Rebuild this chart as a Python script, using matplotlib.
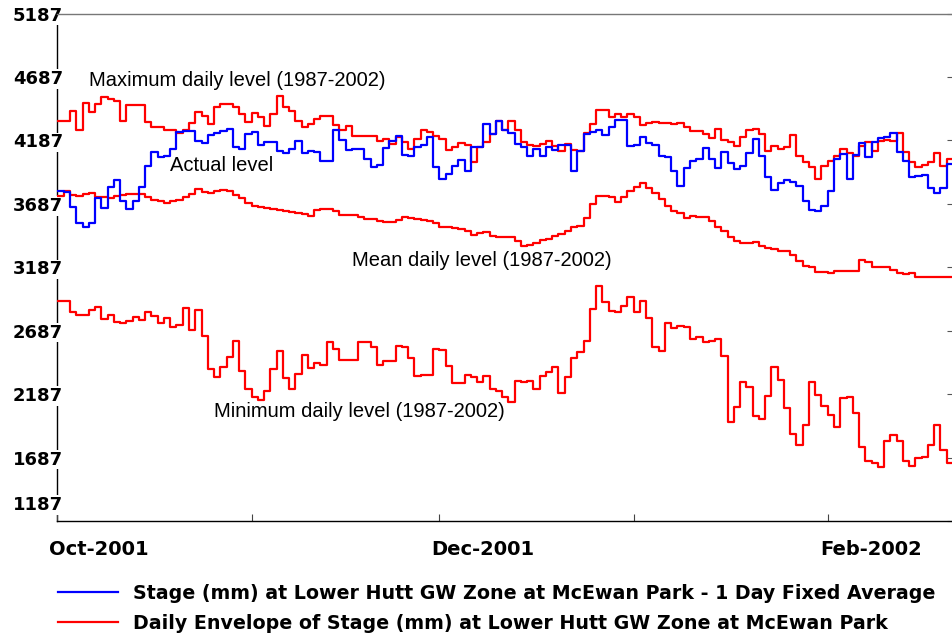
import datetime as dt
import matplotlib.pyplot as plt
import matplotlib.dates as mdates
import matplotlib.transforms as mtransforms
from matplotlib.lines import Line2D

# daily values in mm, starting 1 Oct 2001
start = dt.date(2001, 10, 1)

actual_level = [3791, 3778, 3665, 3534, 3507, 3534, 3734, 3655, 3823, 3876,
                3712, 3647, 3712, 3823, 3989, 4094, 4059, 4067, 4120, 4251,
                4259, 4259, 4186, 4165, 4233, 4243, 4259, 4278, 4138, 4120,
                4238, 4251, 4154, 4172, 4178, 4107, 4085, 4120, 4180, 4085,
                4101, 4094, 4028, 4028, 4265, 4191, 4112, 4120, 4120, 4041,
                3981, 3996, 4128, 4180, 4225, 4075, 4067, 4138, 4154, 4217,
                3975, 3883, 3923, 3988, 4033, 3949, 4138, 4138, 4317, 4238,
                4343, 4265, 4243, 4159, 4138, 4067, 4120, 4067, 4133, 4112,
                4154, 4154, 3949, 4107, 4238, 4251, 4265, 4233, 4296, 4349,
                4349, 4146, 4154, 4217, 4165, 4154, 4067, 4059, 3944, 3831,
                3970, 4023, 4041, 4128, 4041, 3970, 4094, 4007, 3962, 3988,
                4085, 4199, 4067, 3902, 3797, 3849, 3876, 3857, 3831, 3707,
                3639, 3634, 3673, 3791, 4041, 4080, 3883, 4075, 4165, 4054,
                4178, 4207, 4212, 4243, 4094, 4023, 3902, 3910, 3918, 3812,
                3770, 3812, 4001]

max_level = [4338, 4338, 4422, 4270, 4480, 4409, 4475, 4527, 4514, 4496,
             4343, 4462, 4462, 4462, 4330, 4291, 4291, 4265, 4265, 4244,
             4270, 4322, 4409, 4383, 4317, 4449, 4475, 4475, 4454, 4396,
             4330, 4404, 4375, 4304, 4396, 4540, 4454, 4417, 4343, 4296,
             4317, 4356, 4383, 4383, 4312, 4265, 4304, 4225, 4225, 4225,
             4225, 4180, 4199, 4159, 4217, 4172, 4120, 4199, 4270, 4251,
             4225, 4199, 4112, 4133, 4165, 4154, 4015, 4138, 4172, 4238,
             4343, 4270, 4343, 4270, 4172, 4154, 4146, 4159, 4186, 4146,
             4107, 4159, 4112, 4107, 4243, 4317, 4427, 4427, 4375, 4396,
             4375, 4396, 4370, 4312, 4322, 4330, 4322, 4322, 4317, 4322,
             4291, 4259, 4259, 4238, 4207, 4278, 4191, 4172, 4146, 4212,
             4270, 4278, 4238, 4107, 4146, 4120, 4133, 4233, 4067, 4015,
             3981, 3883, 3988, 4028, 4067, 4120, 4085, 4067, 4146, 4172,
             4107, 4180, 4191, 4186, 4243, 4094, 4015, 3981, 3996, 4015,
             4085, 3988, 4041]

mean_level = [3752, 3791, 3760, 3752, 3765, 3770, 3744, 3744, 3734, 3752,
              3760, 3765, 3765, 3765, 3739, 3718, 3707, 3691, 3707, 3718,
              3739, 3765, 3804, 3783, 3770, 3786, 3797, 3786, 3760, 3734,
              3691, 3673, 3660, 3655, 3647, 3639, 3628, 3620, 3613, 3607,
              3594, 3639, 3647, 3647, 3634, 3602, 3602, 3602, 3581, 3568,
              3568, 3549, 3541, 3541, 3560, 3581, 3576, 3568, 3560, 3549,
              3534, 3507, 3502, 3497, 3489, 3476, 3444, 3455, 3463, 3436,
              3423, 3429, 3423, 3397, 3358, 3366, 3376, 3402, 3410, 3436,
              3450, 3476, 3502, 3515, 3576, 3686, 3752, 3752, 3739, 3699,
              3739, 3791, 3823, 3849, 3812, 3770, 3725, 3673, 3634, 3613,
              3576, 3594, 3586, 3586, 3555, 3507, 3471, 3429, 3392, 3376,
              3376, 3384, 3358, 3339, 3331, 3313, 3318, 3286, 3239, 3200,
              3187, 3147, 3147, 3139, 3155, 3160, 3155, 3160, 3245, 3226,
              3187, 3187, 3187, 3166, 3139, 3134, 3139, 3108, 3108, 3108,
              3108, 3108, 3108]

min_level = [2924, 2924, 2832, 2813, 2813, 2850, 2871, 2779, 2813, 2753,
             2745, 2766, 2797, 2771, 2832, 2805, 2745, 2787, 2719, 2734,
             2866, 2692, 2850, 2648, 2385, 2319, 2398, 2477, 2608, 2372,
             2227, 2167, 2140, 2208, 2385, 2529, 2314, 2227, 2345, 2497,
             2392, 2429, 2419, 2595, 2542, 2455, 2455, 2455, 2595, 2595,
             2561, 2419, 2450, 2445, 2569, 2556, 2471, 2332, 2340, 2337,
             2542, 2537, 2411, 2272, 2272, 2340, 2324, 2280, 2332, 2227,
             2208, 2161, 2122, 2293, 2280, 2287, 2227, 2332, 2358, 2403,
             2193, 2324, 2471, 2516, 2608, 2858, 3042, 2910, 2839, 2831,
             2884, 2950, 2831, 2918, 2787, 2555, 2529, 2747, 2708, 2726,
             2713, 2621, 2634, 2595, 2603, 2621, 2490, 1964, 2082, 2280,
             2245, 2017, 1990, 2174, 2398, 2298, 2077, 1872, 1788, 1946,
             2280, 2182, 2095, 2024, 1924, 2153, 2166, 2035, 1767, 1662,
             1648, 1614, 1814, 1867, 1819, 1656, 1622, 1683, 1693, 1788,
             1946, 1746, 1641]

y_ticks = [1187, 1687, 2187, 2687, 3187, 3687, 4187, 4687, 5187]
month_ticks = [dt.date(2001, 10, 1), dt.date(2001, 11, 1), dt.date(2001, 12, 1),
               dt.date(2002, 1, 1), dt.date(2002, 2, 1)]
month_labels = ['Oct-2001', '', 'Dec-2001', '', 'Feb-2002']

legend_labels = ['Stage (mm) at Lower Hutt GW Zone at McEwan Park - 1 Day Fixed Average',
                 'Daily Envelope of Stage (mm) at Lower Hutt GW Zone at McEwan Park']

plt.rcParams['font.family'] = ['Liberation Sans', 'DejaVu Sans']
bold_font = {'family': 'DejaVu Sans', 'weight': 'bold'}

n = len(actual_level)
days = [start + dt.timedelta(days=i) for i in range(n + 1)]


def steps(values):
    # repeat last value so the final day gets its full step
    return list(values) + [values[-1]]


fig = plt.figure(figsize=(9.53, 6.37), dpi=100)
ax = fig.add_axes([0.0603, 0.1821, 0.9397, 0.7967])

blue = '#0000ff'
red = '#ff0000'
lw = 1.6
ax.step(days, steps(max_level), where='post', color=red, lw=lw)
ax.step(days, steps(mean_level), where='post', color=red, lw=lw)
ax.step(days, steps(min_level), where='post', color=red, lw=lw)
ax.step(days, steps(actual_level), where='post', color=blue, lw=lw)

ax.set_xlim(days[0], days[-1])
ax.set_ylim(1187, 5187)

# y axis: bold labels sitting over the left spine
ax.set_yticks(y_ticks)
ax.set_yticklabels([str(v) for v in y_ticks], fontsize=13, **bold_font)
ax.tick_params(axis='y', which='both', left=False, right=True, direction='in',
               length=4, color='#555555', pad=-4)
for lab in ax.get_yticklabels():
    lab.set_bbox(dict(facecolor='white', edgecolor='none', pad=0.5))
ax.get_yticklabels()[0].set_transform(
    ax.get_yticklabels()[0].get_transform()
    + mtransforms.ScaledTranslation(0, 0.18, fig.dpi_scale_trans))

# x axis: month ticks, labels shifted right of the tick
ax.set_xticks(month_ticks)
ax.set_xticklabels(month_labels, fontsize=14, ha='left', **bold_font)
ax.tick_params(axis='x', direction='in', length=5, color='#444444', pad=14)
shift = mtransforms.ScaledTranslation(-0.08, 0, fig.dpi_scale_trans)
for lab in ax.get_xticklabels():
    lab.set_transform(lab.get_transform() + shift)

ax.spines['right'].set_visible(False)
ax.spines['top'].set_color('#777777')
ax.spines['top'].set_linewidth(1)
ax.spines['left'].set_linewidth(1)
ax.spines['bottom'].set_linewidth(1)
ax.spines['left'].set_zorder(1.0)

# series annotations
txt = dict(fontsize=14.5, color='black', va='center', ha='left')
ax.text(start + dt.timedelta(days=5.7), 4659, 'Maximum daily level (1987-2002)', **txt)
ax.text(start + dt.timedelta(days=18.3), 3988, 'Actual level', **txt)
ax.text(start + dt.timedelta(days=47.2), 3239, 'Mean daily level (1987-2002)', **txt)
ax.text(start + dt.timedelta(days=25.8), 2048, 'Minimum daily level (1987-2002)', **txt)

handles = [Line2D([], [], color=blue, lw=lw), Line2D([], [], color=red, lw=lw)]
fig.legend(handles, legend_labels, loc='upper left', bbox_to_anchor=(58 / 953, 1 - 584 / 637),
           frameon=False, borderpad=0, borderaxespad=0, handlelength=3.15,
           handletextpad=0.8, labelspacing=0.58,
           prop={'family': 'DejaVu Sans', 'size': 13.7, 'weight': 'bold'})

fig.savefig('out.png', dpi=100)
